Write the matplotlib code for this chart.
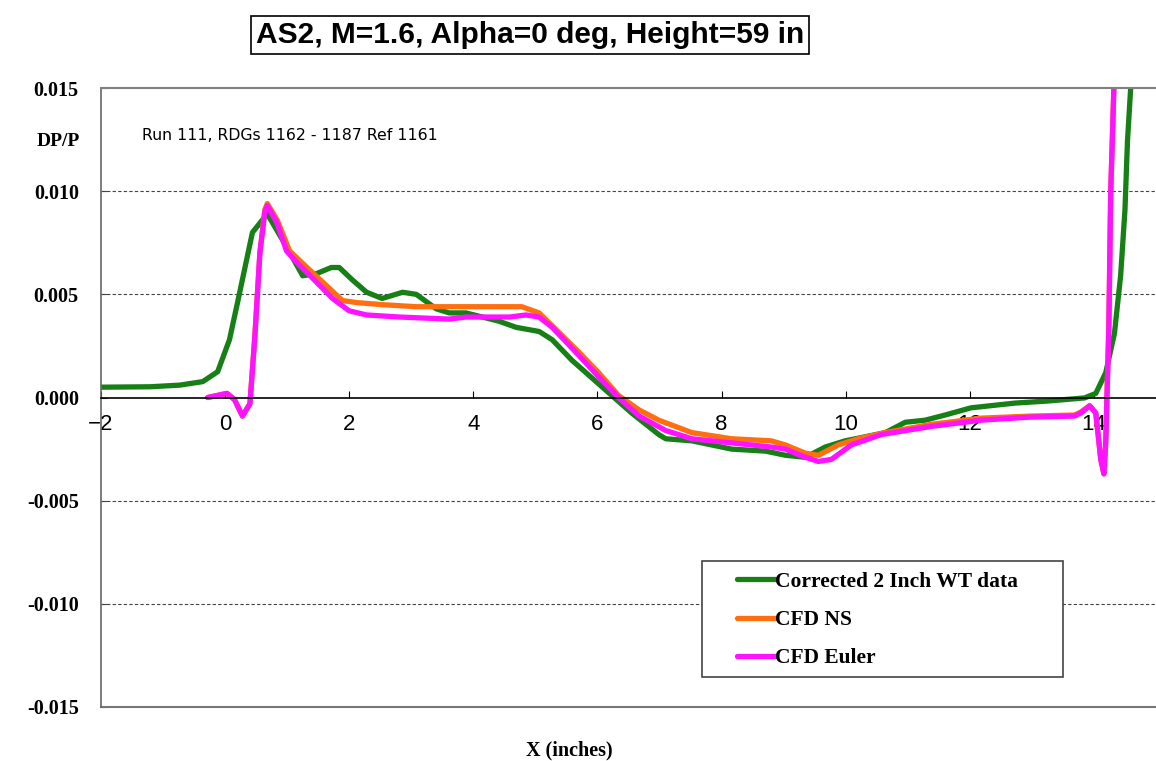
import numpy as np
import matplotlib
matplotlib.use("Agg")
import matplotlib.pyplot as plt
from matplotlib.patches import Rectangle

# values
wt_x = [-2.0, -1.21, -0.73, -0.36, -0.12, 0.07, 0.20, 0.44, 0.68, 0.99, 1.25, 1.47,
        1.71, 1.84, 2.05, 2.28, 2.53, 2.86, 3.08, 3.40, 3.61, 3.88, 4.41, 4.69, 5.06,
        5.27, 5.59, 5.91, 6.23, 6.55, 6.99, 7.10, 7.52, 8.16, 8.71, 9.03, 9.35, 9.67,
        9.99, 10.32, 10.64, 10.96, 11.28, 11.60, 12.02, 12.73, 13.26, 13.85, 14.03,
        14.19, 14.33, 14.43, 14.50, 14.54, 14.59, 14.63]
wt_y = [0.0005, 0.00052, 0.0006, 0.00077, 0.00125, 0.0028, 0.0046, 0.0080, 0.0089,
        0.0073, 0.0059, 0.0060, 0.0063, 0.0063, 0.0057, 0.0051, 0.0048, 0.0051, 0.0050,
        0.0043, 0.0041, 0.0041, 0.0037, 0.0034, 0.0032, 0.0028, 0.0018, 0.00095,
        0.0001, -0.00075, -0.0018, -0.0020, -0.0021, -0.0025, -0.0026, -0.0028,
        -0.0029, -0.0024, -0.0021, -0.0019, -0.0017, -0.0012, -0.0011, -0.00085,
        -0.0005, -0.00027, -0.00017, -0.00002, 0.0002, 0.0012, 0.0031, 0.0059, 0.0091,
        0.0124, 0.0149, 0.0175]

ns_x = [-0.28, 0.03, 0.15, 0.28, 0.40, 0.48, 0.56, 0.64, 0.68, 0.84, 1.04, 1.25, 1.57,
        1.89, 2.12, 2.53, 3.08, 3.61, 3.88, 4.53, 4.78, 5.06, 5.33, 5.70, 6.02, 6.34,
        6.67, 6.99, 7.52, 8.16, 8.80, 9.03, 9.35, 9.56, 9.88, 10.20, 10.64, 11.38,
        11.65, 12.18, 12.98, 13.69, 13.79, 13.93, 14.03, 14.11, 14.16, 14.19, 14.24,
        14.27, 14.32, 14.35]
ns_y = [0.0, 0.0002, -0.0001, -0.0009, -0.0003, 0.0030, 0.0070, 0.0091, 0.0094, 0.0086,
        0.0071, 0.0065, 0.0056, 0.0047, 0.0046, 0.0045, 0.0044, 0.0044, 0.0044, 0.0044,
        0.0044, 0.0041, 0.0033, 0.0022, 0.0012, 0.0001, -0.0006, -0.0011, -0.0017,
        -0.0020, -0.0021, -0.0023, -0.0027, -0.0028, -0.0023, -0.0020, -0.0017,
        -0.0013, -0.0012, -0.0010, -0.0009, -0.00085, -0.0007, -0.0004, -0.00075,
        -0.0030, -0.0037, -0.0022, 0.0034, 0.0099, 0.0149, 0.0175]

eu_x = [-0.28, 0.03, 0.15, 0.28, 0.40, 0.48, 0.56, 0.64, 0.68, 0.83, 0.99, 1.20, 1.47,
        1.73, 2.00, 2.28, 2.81, 3.61, 3.88, 4.58, 4.85, 5.06, 5.27, 5.65, 6.02, 6.34,
        6.67, 7.10, 7.52, 8.16, 8.80, 9.03, 9.35, 9.56, 9.77, 10.09, 10.57, 11.38,
        11.65, 12.18, 12.98, 13.69, 13.79, 13.93, 14.03, 14.11, 14.16, 14.19, 14.24,
        14.27, 14.32, 14.35]
eu_y = [0.0, 0.0002, -0.0001, -0.0009, -0.0003, 0.0030, 0.0070, 0.0090, 0.0093, 0.0085,
        0.0071, 0.0064, 0.0056, 0.0048, 0.0042, 0.0040, 0.0039, 0.0038, 0.0039, 0.0039,
        0.0040, 0.0039, 0.0034, 0.0022, 0.0010, 0.0, -0.0009, -0.0016, -0.0020,
        -0.0022, -0.0024, -0.0025, -0.0029, -0.0031, -0.0030, -0.0023, -0.0018,
        -0.0014, -0.0013, -0.0011, -0.00095, -0.0009, -0.00075, -0.0004, -0.00075,
        -0.0030, -0.0037, -0.0022, 0.0034, 0.0099, 0.0149, 0.0175]

labels = ["Corrected 2 Inch WT data", "CFD NS", "CFD Euler"]
colors = ["#168016", "#ff6f0f", "#ff12ff"]
y_ticks = [-0.015, -0.010, -0.005, 0.0, 0.005, 0.010, 0.015]
x_ticks = [-2, 0, 2, 4, 6, 8, 10, 12, 14]

serif = "Liberation Serif"
sans = "Liberation Sans"
W, H = 1156, 761

fig = plt.figure(figsize=(W / 100, H / 100), dpi=100)
ax = fig.add_axes([101 / W, 54 / H, 1 - 101 / W, 619 / H])

ax.plot(wt_x, wt_y, color=colors[0], lw=3.8, label=labels[0], solid_capstyle="round")
ax.plot(ns_x, ns_y, color=colors[1], lw=3.8, label=labels[1], solid_capstyle="round")
ax.plot(eu_x, eu_y, color=colors[2], lw=3.8, label=labels[2], solid_capstyle="round")

ax.set_xlim(-2, 15)
ax.set_ylim(-0.015, 0.015)

for yv in [-0.010, -0.005, 0.005, 0.010]:
    ax.axhline(yv, color="#444444", lw=0.8, ls=(0, (3, 2)), zorder=0)
ax.axhline(-0.015, color="#777777", lw=1.5, clip_on=False)

ax.spines["bottom"].set_position(("data", 0))
ax.spines["bottom"].set_color("black")
ax.spines["bottom"].set_linewidth(1.2)
ax.spines["right"].set_visible(False)
ax.spines["top"].set_color("#808080")
ax.spines["top"].set_linewidth(1.5)
ax.spines["left"].set_color("#666666")
ax.spines["left"].set_linewidth(1.2)

ax.set_xticks(x_ticks)
ax.set_xticklabels([str(v).replace("-", "\u2212") for v in x_ticks],
                   fontfamily=sans, fontsize=16)
ax.tick_params(axis="x", direction="in", length=5, pad=12, color="black")
ax.set_yticks(y_ticks)
ax.set_yticklabels(["%.3f" % v for v in y_ticks], fontfamily=serif,
                   fontweight="bold", fontsize=14.5)
ax.tick_params(axis="y", direction="in", length=4, pad=16, color="#444444")

fig.text(58 / W, 1 - 142 / H, "DP/P", family=serif, weight="bold",
         fontsize=14, ha="center", va="center")
fig.text(569 / W, 1 - 750 / H, "X (inches)", family=serif, weight="bold",
         fontsize=14.5, ha="center", va="center")
fig.text(142 / W, 1 - 135 / H, "Run 111, RDGs 1162 - 1187 Ref 1161",
         family="DejaVu Sans", fontsize=11.3, ha="left", va="center")
fig.text(530 / W, 1 - 35 / H, "AS2, M=1.6, Alpha=0 deg, Height=59 in",
         family=sans, weight="bold", fontsize=21.5, ha="center", va="center",
         bbox=dict(boxstyle="square,pad=0.17", fc="white", ec="black", lw=1.2))

# legend frame drawn separately (reference box is wider than its text block)
ax.add_patch(Rectangle((702 / W, 1 - 677 / H), 361 / W, 116 / H,
                       transform=fig.transFigure, fc="white", ec="#444444",
                       lw=1.2, zorder=5, clip_on=False))
leg = ax.legend(loc="center left", bbox_to_anchor=(737 / W, 1 - 620 / H),
                bbox_transform=fig.transFigure, frameon=False, borderaxespad=0,
                borderpad=0, handlelength=1.75, handletextpad=0.0,
                labelspacing=0.85, prop=dict(family=serif, weight="bold", size=15.5))
leg.set_zorder(6)

fig.savefig("out.png", dpi=100)
